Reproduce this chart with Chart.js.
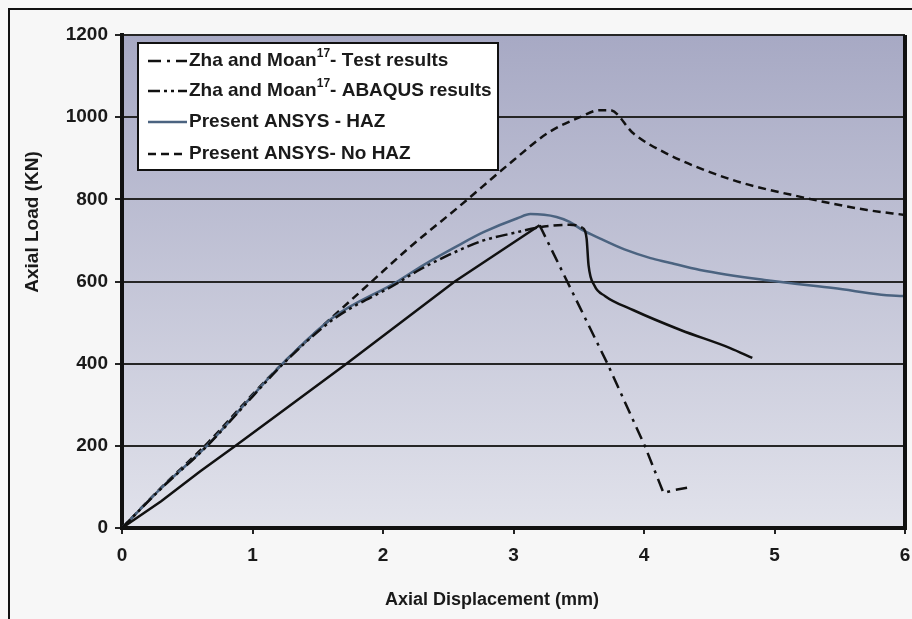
<!DOCTYPE html>
<html>
<head>
<meta charset="utf-8">
<script src="https://cdn.jsdelivr.net/npm/chart.js@4.4.1/dist/chart.umd.min.js"></script>
<style>
  html, body { margin: 0; padding: 0; background: #f7f7f7; }
  #wrap { width: 912px; height: 619px; position: relative; }
</style>
</head>
<body>
<div id="wrap"><canvas id="canvas" width="912" height="619"></canvas></div>
<script>
// values (displacement in mm, load in kN)
var testX = [0, 0.3, 0.6, 0.87, 1.21, 1.72, 2.55, 3.2, 3.72, 4.01, 4.15, 4.24, 4.33];
var testY = [0, 65, 138, 200, 280, 400, 600, 737, 400, 197, 85, 93, 98];

var abaqusX = [0, 0.3, 0.65, 1.0, 1.23, 1.62, 2.1, 2.26, 2.5, 2.77, 3.0, 3.2, 3.43, 3.53, 3.56, 3.575, 3.62, 3.7, 3.92, 4.28, 4.66, 4.83];
var abaqusY = [0, 96, 199, 320, 398, 508, 594, 625, 664, 700, 718, 732, 738, 730, 705, 640, 590, 565, 530, 482, 438, 414];

var hazX = [0, 0.3, 0.65, 1.0, 1.23, 1.62, 2.1, 2.31, 2.55, 2.77, 3.03, 3.13, 3.33, 3.43, 3.53, 3.66, 3.85, 4.05, 4.18, 4.43, 4.94, 5.45, 5.96, 6];
var hazY = [0, 97, 200, 322, 400, 513, 598, 640, 683, 720, 754, 764, 757, 745, 725, 705, 678, 657, 647, 628, 603, 584, 565, 565];

var noHazX = [0, 0.3, 0.65, 1.0, 1.23, 1.6, 1.9, 2.2, 2.57, 3.0, 3.26, 3.51, 3.66, 3.74, 3.92, 4.17, 4.68, 5.2, 5.71, 6];
var noHazY = [0, 98, 205, 325, 400, 510, 596, 682, 779, 895, 961, 1000, 1017, 1017, 960, 912, 847, 806, 774, 762];

var xTicks = [0, 1, 2, 3, 4, 5, 6];
var yTicks = [0, 200, 400, 600, 800, 1000, 1200];

var labels = [
    'Zha and Moan\u00b9\u2077- Test results',
    'Zha and Moan\u00b9\u2077- ABAQUS results',
    'Present ANSYS - HAZ',
    'Present ANSYS- No HAZ'
];

function pts(xs, ys) {
    return xs.map(function(x, i) { return {x: x, y: ys[i]}; });
}

var FONT = "'Liberation Sans', Arial, sans-serif";

// plot background, frame, legend and axis titles
var decor = {
    id: 'decor',
    beforeDraw: function(chart) {
        var c = chart.ctx, a = chart.chartArea;
        var g = c.createLinearGradient(0, a.top, 0, a.bottom);
        g.addColorStop(0, '#a7a9c4');
        g.addColorStop(1, '#e1e2eb');
        c.save();
        c.fillStyle = g;
        c.fillRect(a.left, a.top, a.right - a.left, a.bottom - a.top);
        c.restore();
    },
    afterDraw: function(chart) {
        var c = chart.ctx, a = chart.chartArea;
        c.save();
        // outer frame
        c.strokeStyle = '#111';
        c.lineWidth = 2;
        c.beginPath();
        c.moveTo(9, 619); c.lineTo(9, 9); c.lineTo(912, 9);
        c.stroke();
        // right border of plot
        c.lineWidth = 4;
        c.beginPath();
        c.moveTo(a.right, a.top); c.lineTo(a.right, a.bottom + 2);
        c.stroke();

        // axis titles
        c.fillStyle = '#1a1a1a';
        c.textAlign = 'center';
        c.textBaseline = 'middle';
        c.font = 'bold 18px ' + FONT;
        c.fillText('Axial Displacement (mm)', 492, 600);
        c.font = 'bold 19px ' + FONT;
        c.translate(33, 222);
        c.rotate(-Math.PI / 2);
        c.fillText('Axial Load (KN)', 0, 0);
        c.restore();

        // legend box
        c.save();
        var bx = 138, by = 43, bw = 360, bh = 127;
        c.fillStyle = '#ffffff';
        c.fillRect(bx, by, bw, bh);
        c.strokeStyle = '#111';
        c.lineWidth = 2;
        c.strokeRect(bx, by, bw, bh);
        var rows = [61, 91, 122, 154];
        var sup = {'\u00b9': '1', '\u2077': '7'};
        chart.data.datasets.forEach(function(ds, i) {
            var y = rows[i];
            c.strokeStyle = ds.borderColor;
            c.lineWidth = 2.5;
            c.setLineDash(ds.borderDash || []);
            c.beginPath();
            c.moveTo(148, y); c.lineTo(187, y);
            c.stroke();
            c.setLineDash([]);
            c.fillStyle = '#1a1a1a';
            c.textAlign = 'left';
            c.textBaseline = 'middle';
            var x = 189;
            var txt = ds.label;
            for (var k = 0; k < txt.length; k++) {
                var ch = txt[k];
                if (sup[ch]) {
                    c.font = 'bold 12px ' + FONT;
                    c.fillText(sup[ch], x, y - 7);
                    x += c.measureText(sup[ch]).width;
                } else {
                    c.font = 'bold 19px ' + FONT;
                    c.fillText(ch, x, y);
                    x += c.measureText(ch).width;
                }
            }
        });
        c.restore();
    }
};

window.onload = function() {
    var ctx = document.getElementById('canvas').getContext('2d');
    window.myChart = new Chart(ctx, {
        type: 'line',
        data: {
            datasets: [{
                label: labels[0],
                data: pts(testX, testY),
                borderColor: '#111111',
                borderWidth: 2.5,
                borderDash: [13, 6, 3, 6],
                pointRadius: 0,
                tension: 0,
                segment: {
                    borderDash: function(s) { return s.p0.parsed.x < 3.19 ? [] : undefined; }
                }
            }, {
                label: labels[1],
                data: pts(abaqusX, abaqusY),
                borderColor: '#111111',
                borderWidth: 2.5,
                borderDash: [12, 4, 3, 4, 3, 4],
                pointRadius: 0,
                cubicInterpolationMode: 'monotone',
                segment: {
                    borderDash: function(s) {
                        var x = s.p0.parsed.x;
                        if (x >= 3.53) return [];
                        if (x >= 3.2) return [9, 5];
                        return undefined;
                    }
                }
            }, {
                label: labels[2],
                data: pts(hazX, hazY),
                borderColor: '#4b6380',
                borderWidth: 2.5,
                pointRadius: 0,
                cubicInterpolationMode: 'monotone'
            }, {
                label: labels[3],
                data: pts(noHazX, noHazY),
                borderColor: '#111111',
                borderWidth: 2.5,
                borderDash: [8, 5],
                pointRadius: 0,
                cubicInterpolationMode: 'monotone'
            }]
        },
        options: {
            responsive: false,
            animation: false,
            layout: { padding: { left: 0, top: 35, right: 7, bottom: 0 } },
            plugins: {
                legend: { display: false },
                tooltip: { enabled: false }
            },
            scales: {
                x: {
                    type: 'linear',
                    min: 0,
                    max: 6,
                    afterFit: function(s) { s.height = 91; s.paddingLeft = 0; s.paddingRight = 0; },
                    afterBuildTicks: function(s) { s.ticks = xTicks.map(function(v) { return {value: v}; }); },
                    grid: { drawOnChartArea: false, drawTicks: true, tickLength: 6, color: '#222', lineWidth: 2 },
                    border: { display: true, color: '#111', width: 4 },
                    ticks: {
                        color: '#1a1a1a', padding: 10,
                        font: { family: FONT, size: 19, weight: 'bold' },
                        callback: function(v) { return String(v); }
                    }
                },
                y: {
                    min: 0,
                    max: 1200,
                    afterFit: function(s) { s.width = 122; s.paddingTop = 0; s.paddingBottom = 0; },
                    afterBuildTicks: function(s) { s.ticks = yTicks.map(function(v) { return {value: v}; }); },
                    grid: { color: '#262626', lineWidth: 2, tickLength: 7 },
                    border: { display: true, color: '#111', width: 4 },
                    ticks: {
                        color: '#1a1a1a', padding: 7,
                        font: { family: FONT, size: 19, weight: 'bold' },
                        callback: function(v) { return String(v); }
                    }
                }
            }
        },
        plugins: [decor]
    });
};
</script>
</body>
</html>
